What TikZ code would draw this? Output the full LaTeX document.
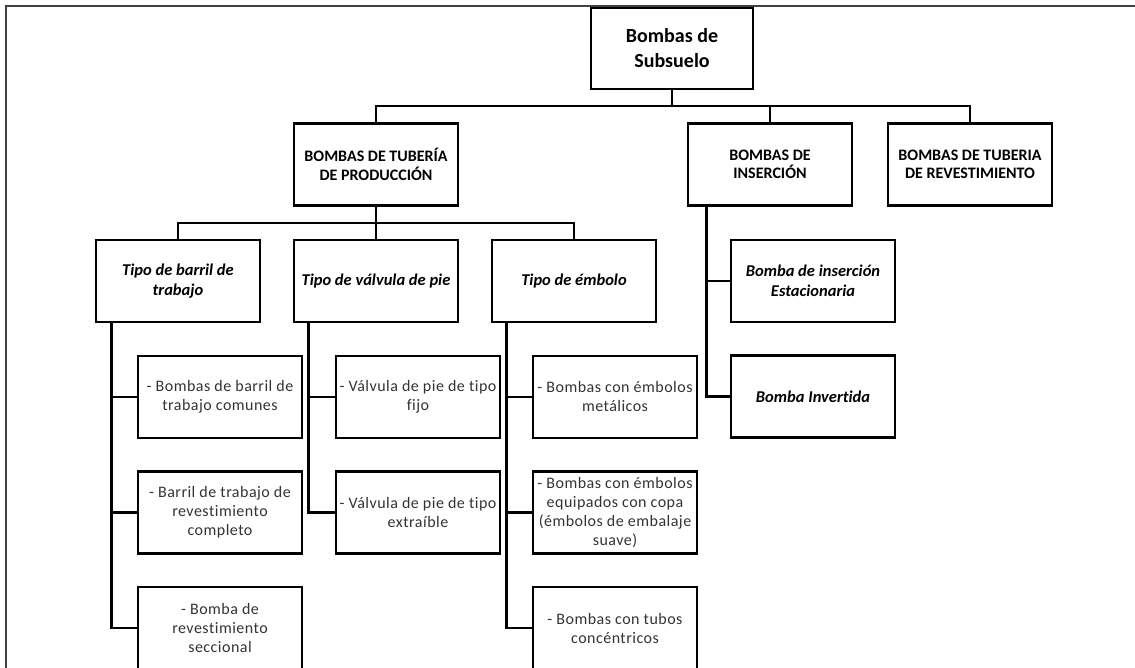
\documentclass[tikz,border=0pt]{standalone}
\usepackage{fontspec}
\setmainfont[Ligatures=NoCommon]{Carlito}
\newfontfamily\leaffont[LetterSpace=3, Ligatures=NoCommon]{Carlito}

\tikzset{
  box/.style={draw, line width=2.8pt, minimum width=164pt, minimum height=82pt, align=center, inner sep=1pt},
  rootbox/.style={box, minimum width=162pt, minimum height=81pt, font=\fontsize{20}{25}\selectfont\bfseries},
  groupbox/.style={box, font=\fontsize{16}{18.5}\selectfont\bfseries},
  typebox/.style={box, font=\fontsize{16.5}{19.5}\selectfont\bfseries\itshape},
  leafbox/.style={box, text=black!80, font=\leaffont\fontsize{16}{19}\selectfont},
  conn/.style={draw, line width=2.8pt, line join=miter},
}

\begin{document}
\begin{tikzpicture}[x=1pt, y=-1pt, node distance=115.5pt]
  \useasboundingbox (0,0) rectangle (1135,668);
  \draw[black!75, line width=2.2pt] (6,700) -- (6,6) -- (1150,6);

  \node[rootbox]  (root)    at (672,48.5)  {Bombas de\\Subsuelo};
  \node[groupbox] (btp)     at (376,164.5) {BOMBAS DE TUBERÍA\\DE PRODUCCIÓN};
  \node[groupbox] (bins)    at (770,164.5) {BOMBAS DE\\INSERCIÓN};
  \node[groupbox] (brev)    at (970,164.5) {BOMBAS DE TUBERIA\\DE REVESTIMIENTO};

  \node[typebox]  (barril)  at (178,281)   {Tipo de barril de\\trabajo};
  \node[typebox]  (valvula) at (376,281)   {Tipo de válvula de pie};
  \node[typebox]  (embolo)  at (574,281)   {Tipo de émbolo};
  \node[typebox]  (estac)   at (813,281)   {Bomba de inserción\\Estacionaria};
  \node[typebox]  (invert)  [below of=estac] {Bomba Invertida};

  \node[leafbox]  (barril1) at (220,397)   {- Bombas de barril de\\trabajo comunes};
  \node[leafbox]  (barril2) [below of=barril1] {- Barril de trabajo de\\revestimiento\\completo};
  \node[leafbox]  (barril3) [below of=barril2] {- Bomba de\\revestimiento\\seccional};

  \node[leafbox]  (valv1)   at (418,397)   {- Válvula de pie de tipo\\fijo};
  \node[leafbox]  (valv2)   [below of=valv1] {- Válvula de pie de tipo\\extraíble};

  \node[leafbox]  (emb1)    at (615,397)   {- Bombas con émbolos\\metálicos};
  \node[leafbox]  (emb2)    [below of=emb1] {- Bombas con émbolos\\equipados con copa\\(émbolos de embalaje\\suave)};
  \node[leafbox]  (emb3)    [below of=emb2] {- Bombas con tubos\\concéntricos};

  \coordinate (bus1) at (0,106);
  \coordinate (bus2) at (0,223);
  \coordinate (tbar)  at ([xshift=17pt]barril.south west);
  \coordinate (tvalv) at ([xshift=16pt]valvula.south west);
  \coordinate (temb)  at ([xshift=16pt]embolo.south west);
  \coordinate (tins)  at ([xshift=20pt]bins.south west);

  \draw[conn] (btp.north) |- (root.south |- bus1) -| (brev.north);
  \draw[conn] (root.south) -- (root.south |- bus1);
  \draw[conn] (bins.north) -- (bins.north |- bus1);

  \draw[conn] (barril.north) |- (btp.south |- bus2) -| (embolo.north);
  \draw[conn] (btp.south) -- (valvula.north);

  \draw[conn] (tbar) |- (barril3.west);
  \path[conn]
    (barril1.west) edge (barril1.west -| tbar)
    (barril2.west) edge (barril2.west -| tbar);

  \draw[conn] (tvalv) |- (valv2.west);
  \path[conn]
    (valv1.west) edge (valv1.west -| tvalv);

  \draw[conn] (temb) |- (emb3.west);
  \path[conn]
    (emb1.west) edge (emb1.west -| temb)
    (emb2.west) edge (emb2.west -| temb);

  \draw[conn] (tins) |- (invert.west);
  \path[conn]
    (estac.west) edge (estac.west -| tins);
\end{tikzpicture}
\end{document}
